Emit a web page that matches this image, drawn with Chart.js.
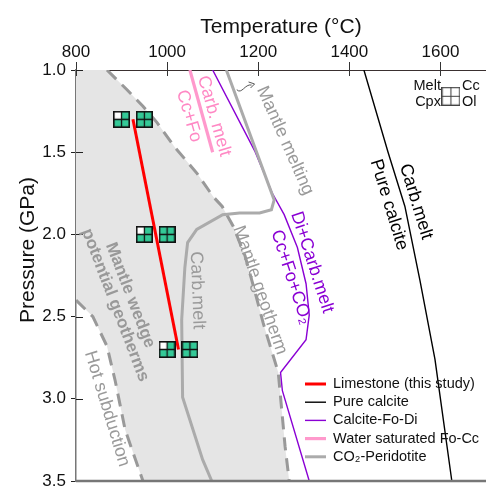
<!DOCTYPE html>
<html><head><meta charset="utf-8">
<script src="https://cdn.jsdelivr.net/npm/chart.js@4.4.1/dist/chart.umd.min.js"></script>
<style>html,body{margin:0;padding:0;background:#fff}#wrap{width:486px;height:489px;position:relative}</style>
</head><body><div id="wrap"><canvas id="c" width="486" height="489"></canvas></div>
<script>
// ---------- data ----------
const tempTicks = [800, 1000, 1200, 1400, 1600];
const pressureTicks = [1.0, 1.5, 2.0, 2.5, 3.0, 3.5];

const limestoneT = [925, 1025];
const limestoneP = [1.3, 2.7];

const pureCalciteT = [1432, 1485, 1522, 1555, 1588, 1625];
const pureCalciteP = [1.0, 1.5, 1.83, 2.28, 2.76, 3.5];

const calciteFoDiT = [1100, 1192, 1231, 1257, 1286, 1305, 1312, 1305, 1249, 1253, 1312];
const calciteFoDiP = [1.0, 1.49, 1.75, 1.88, 2.08, 2.30, 2.49, 2.64, 2.84, 2.95, 3.5];

const waterFoCcT = [1050, 1100];
const waterFoCcP = [1.0, 1.5];

const co2PeridotiteT = [1130, 1235, 1229, 1203, 1159, 1122, 1065, 1045, 1039, 1032, 1034, 1078, 1098];
const co2PeridotiteP = [1.0, 1.79, 1.85, 1.87, 1.87, 1.88, 1.97, 2.05, 2.20, 2.52, 2.99, 3.37, 3.5];

const mantleGeothermT = [868, 912, 947, 978, 1017, 1066, 1101, 1121, 1145, 1171, 1189, 1211, 1244, 1259, 1268];
const mantleGeothermP = [1.0, 1.12, 1.22, 1.32, 1.47, 1.63, 1.77, 1.83, 1.95, 2.13, 2.31, 2.54, 2.84, 3.29, 3.5];

const hotSubductionT = [800, 837, 868, 886, 908, 947];
const hotSubductionP = [2.40, 2.50, 2.68, 2.89, 3.19, 3.5];

// experiments: with melt (white melt quadrant) and without
const meltRunT = [900, 950, 1000];
const meltRunP = [1.3, 2.0, 2.7];
const noMeltRunT = [950, 1000, 1050];
const noMeltRunP = [1.3, 2.0, 2.7];

const keyT = [1623];
const keyP = [1.16];

// ---------- helpers ----------
const FONT = "'Liberation Sans', Arial, 'DejaVu Sans', sans-serif";
Chart.defaults.font.family = FONT;
const zip = (xs, ys) => xs.map((v, i) => ({x: v, y: ys[i]}));

function makeGlyph(size, tl, other, border, lw) {
  const c = document.createElement('canvas');
  c.width = size; c.height = size;
  const g = c.getContext('2d');
  const h = size / 2;
  g.fillStyle = other; g.fillRect(0, 0, size, size);
  g.fillStyle = tl; g.fillRect(0, 0, h, h);
  g.strokeStyle = border; g.lineWidth = lw;
  g.strokeRect(lw / 2, lw / 2, size - lw, size - lw);
  g.lineWidth = lw * 0.8;
  g.beginPath();
  g.moveTo(h, 0); g.lineTo(h, size);
  g.moveTo(0, h); g.lineTo(size, h);
  g.stroke();
  return c;
}
const GREEN = '#34c997';
const glyphMelt = makeGlyph(17, '#ffffff', GREEN, '#111', 1.6);
const glyphNoMelt = makeGlyph(17, GREEN, GREEN, '#111', 1.6);
const glyphKey = makeGlyph(19, '#ffffff', '#ffffff', '#444', 1.3);

const fillPolygon = [{x: 800, y: 1.0}]
  .concat(zip(mantleGeothermT, mantleGeothermP))
  .concat(zip(hotSubductionT, hotSubductionP).reverse())
  .concat([{x: 800, y: 1.0}]);

const lineDs = (label, xs, ys, color, width, extra) => Object.assign({
  label, data: zip(xs, ys), showLine: true, borderColor: color, borderWidth: width,
  pointRadius: 0, fill: false, tension: 0, order: 1
}, extra || {});

const datasets = [
  Object.assign(lineDs('fill', fillPolygon.map(p => p.x), fillPolygon.map(p => p.y), 'rgba(0,0,0,0)', 1),
    {fill: 'shape', backgroundColor: '#e5e5e5', order: 20}),
  lineDs('Mantle geotherm', mantleGeothermT, mantleGeothermP, '#999999', 3, {borderDash: [13, 8], order: 10}),
  lineDs('Hot subduction', hotSubductionT, hotSubductionP, '#999999', 3, {borderDash: [13, 8], order: 10}),
  lineDs('CO₂-Peridotite', co2PeridotiteT, co2PeridotiteP, '#ababab', 3, {inLegend: 5}),
  lineDs('Water saturated Fo-Cc', waterFoCcT, waterFoCcP, '#ff99cc', 3.2, {inLegend: 4}),
  lineDs('Calcite-Fo-Di', calciteFoDiT, calciteFoDiP, '#8a00d4', 1.4, {inLegend: 3}),
  lineDs('Pure calcite', pureCalciteT, pureCalciteP, '#000000', 1.4, {inLegend: 2}),
  lineDs('Limestone (this study)', limestoneT, limestoneP, '#ff0000', 3, {inLegend: 1, order: 0}),
  {label: 'melt', data: zip(meltRunT, meltRunP), pointStyle: glyphMelt, pointRadius: 9, showLine: false, order: -1},
  {label: 'nomelt', data: zip(noMeltRunT, noMeltRunP), pointStyle: glyphNoMelt, pointRadius: 9, showLine: false, order: -1},
  {label: 'key', data: zip(keyT, keyP), pointStyle: glyphKey, pointRadius: 10, showLine: false, order: -1}
];

// rotated text annotations (data coords)
const annotations = [
  {text: 'Carb. melt', t: 1103, p: 1.28, a: 74, color: '#ff88c4', size: 18},
  {text: 'Cc+Fo', t: 1048, p: 1.28, a: 74, color: '#ff88c4', size: 18},
  {text: 'Mantle melting', t: 1259, p: 1.43, a: 66, color: '#9a9a9a', size: 18},
  {text: 'Di+Carb.melt', t: 1318, p: 2.17, a: 72, color: '#8a00d4', size: 18},
  {text: 'Cc+Fo+CO₂', t: 1272, p: 2.26, a: 72, color: '#8a00d4', size: 18},
  {text: 'Pure calcite', t: 1487, p: 1.82, a: 73, color: '#000', size: 18},
  {text: 'Carb.melt', t: 1546, p: 1.80, a: 73, color: '#000', size: 18},
  {text: 'Carb.melt', t: 1066, p: 2.34, a: 88, color: '#9a9a9a', size: 18},
  {text: 'Mantle geotherm', t: 1204, p: 2.34, a: 71, color: '#9a9a9a', size: 18},
  {text: 'Mantle wedge', t: 919, p: 2.37, a: 69, color: '#999', size: 17, bold: true},
  {text: 'potential geotherms', t: 886, p: 2.43, a: 69, color: '#999', size: 17, bold: true},
  {text: 'Hot subduction', t: 868, p: 3.06, a: 73, color: '#9a9a9a', size: 18}
];

const overlay = {
  id: 'overlay',
  beforeDraw(chart) {
    const c = chart.ctx;
    c.save(); c.fillStyle = '#fff'; c.fillRect(0, 0, chart.width, chart.height); c.restore();
  },
  afterDatasetsDraw(chart) {
    const {ctx, chartArea: a, scales: {x, y}} = chart;
    ctx.save();
    // inner tick marks
    ctx.strokeStyle = '#333'; ctx.lineWidth = 1;
    tempTicks.forEach(v => {
      const px = Math.round(x.getPixelForValue(v)) + 0.5;
      ctx.beginPath(); ctx.moveTo(px, a.top); ctx.lineTo(px, a.top + 6); ctx.stroke();
    });
    ctx.strokeStyle = '#222';
    pressureTicks.forEach(v => {
      const py = Math.round(y.getPixelForValue(v)) + 0.5;
      ctx.beginPath(); ctx.moveTo(a.left, py); ctx.lineTo(a.left + 7, py); ctx.stroke();
    });
    // bottom frame line
    ctx.strokeStyle = '#777'; ctx.lineWidth = 2.5;
    ctx.beginPath(); ctx.moveTo(a.left, a.bottom); ctx.lineTo(a.right, a.bottom); ctx.stroke();

    // annotations
    annotations.forEach(an => {
      ctx.save();
      ctx.translate(x.getPixelForValue(an.t), y.getPixelForValue(an.p));
      ctx.rotate(an.a * Math.PI / 180);
      ctx.font = (an.bold ? 'bold ' : '') + an.size + 'px ' + FONT;
      ctx.fillStyle = an.color; ctx.textAlign = 'center'; ctx.textBaseline = 'middle';
      ctx.fillText(an.text, 0, 0);
      ctx.restore();
    });

    // little arrow next to "Mantle melting"
    const ax0 = x.getPixelForValue(1153), ay0 = y.getPixelForValue(1.12);
    const ax1 = x.getPixelForValue(1192), ay1 = y.getPixelForValue(1.085);
    ctx.strokeStyle = '#555'; ctx.lineWidth = 1;
    ctx.beginPath(); ctx.moveTo(ax0, ay0);
    ctx.bezierCurveTo(ax0 + 5, ay0 + 5, ax0 + 8, ay0 - 6, ax1 - 3, ay1 + 1); ctx.stroke();
    ctx.beginPath(); ctx.moveTo(ax1 - 6, ay1 - 2); ctx.lineTo(ax1, ay1); ctx.lineTo(ax1 - 4, ay1 + 4); ctx.stroke();

    // key text
    const kx = x.getPixelForValue(keyT[0]), ky = y.getPixelForValue(keyP[0]);
    ctx.font = '14.5px ' + FONT; ctx.fillStyle = '#111'; ctx.textBaseline = 'middle';
    ctx.textAlign = 'right';
    ctx.fillText('Melt', kx - 10, ky - 10); ctx.fillText('Cpx', kx - 10, ky + 6);
    ctx.textAlign = 'left';
    ctx.fillText('Cc', kx + 11, ky - 10); ctx.fillText('Ol', kx + 11, ky + 6);

    // legend
    const items = chart.data.datasets.filter(d => d.inLegend).sort((p, q) => p.inLegend - q.inLegend);
    const lx = 305, ly0 = 384, dy = 18.2;
    ctx.font = '14.5px ' + FONT; ctx.textAlign = 'left'; ctx.textBaseline = 'middle';
    items.forEach((d, i) => {
      const yy = ly0 + i * dy;
      ctx.strokeStyle = d.borderColor; ctx.lineWidth = d.borderWidth; ctx.setLineDash([]);
      ctx.beginPath(); ctx.moveTo(lx, yy); ctx.lineTo(lx + 21, yy); ctx.stroke();
      ctx.fillStyle = '#111';
      ctx.fillText(d.label, lx + 28, yy);
    });

    // y-axis title
    ctx.save();
    ctx.translate(28, 250); ctx.rotate(-Math.PI / 2);
    ctx.font = '21px ' + FONT; ctx.fillStyle = '#111';
    ctx.textAlign = 'center'; ctx.textBaseline = 'middle';
    ctx.fillText('Pressure (GPa)', 0, 0);
    ctx.restore();
    ctx.restore();
  }
};

new Chart(document.getElementById('c'), {
  type: 'scatter',
  data: {datasets},
  options: {
    responsive: false, animation: false, events: [],
    layout: {autoPadding: false, padding: {top: 0, right: 0, bottom: 8, left: 0}},
    plugins: {legend: {display: false}, tooltip: {enabled: false}},
    scales: {
      x: {
        type: 'linear', position: 'top', min: 800, max: 1700,
        afterBuildTicks: s => { s.ticks = tempTicks.map(v => ({value: v})); },
        afterFit: s => { s.height = 70; s.paddingLeft = 0; s.paddingRight = 0; },
        ticks: {font: {size: 17}, color: '#111', padding: -1, maxRotation: 0, autoSkip: false, callback: v => String(v)},
        grid: {drawOnChartArea: false, drawTicks: true, tickLength: 8, color: '#333'},
        border: {display: true, color: '#3a3030', width: 1},
        title: {display: true, text: 'Temperature (°C)', font: {size: 21}, color: '#111', padding: {top: 15, bottom: 0}}
      },
      y: {
        type: 'linear', reverse: true, min: 1.0, max: 3.5,
        afterBuildTicks: s => { s.ticks = pressureTicks.map(v => ({value: v})); },
        afterFit: s => { s.width = 76; s.paddingTop = 0; s.paddingBottom = 0; },
        ticks: {font: {size: 17}, color: '#111', padding: 5, autoSkip: false, callback: v => Number(v).toFixed(1)},
        grid: {drawOnChartArea: false, drawTicks: true, tickLength: 5, color: '#222'},
        border: {display: true, color: '#777', width: 1.5}
      }
    }
  },
  plugins: [overlay]
});
</script>
</body></html>
